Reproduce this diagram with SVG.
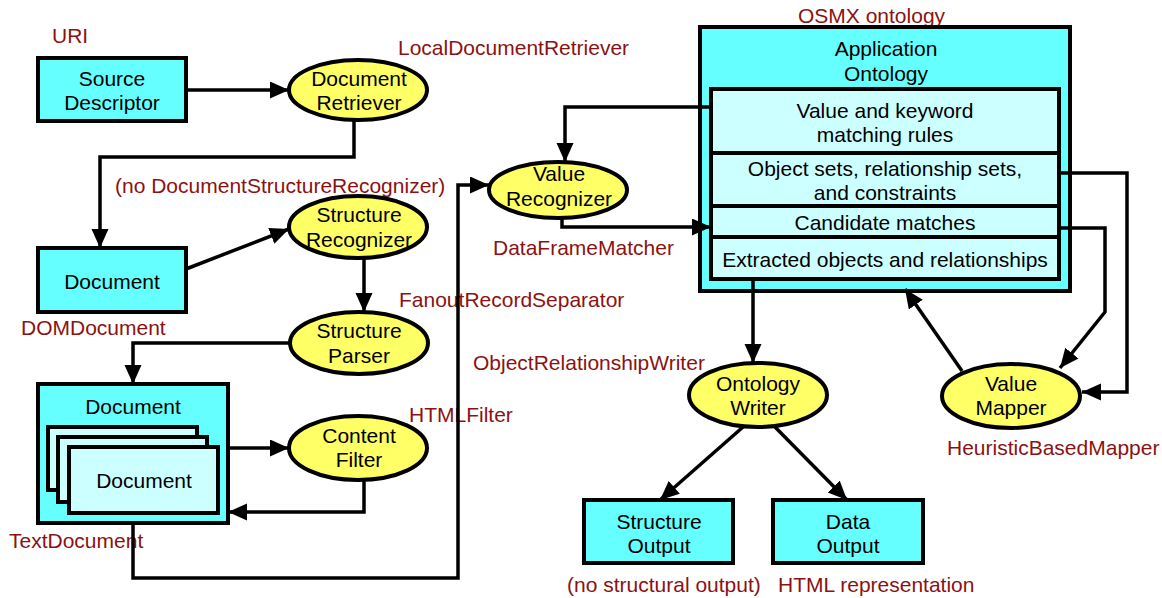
<svg xmlns="http://www.w3.org/2000/svg" width="1162" height="598" viewBox="0 0 1162 598">
<defs>
<marker id="ah" markerUnits="userSpaceOnUse" markerWidth="21" markerHeight="19" refX="19" refY="8.5" orient="auto">
<path d="M0,0 L19,8.5 L0,17 z" fill="#000"/>
</marker>
<style>
.box{fill:#66FFFF;stroke:#000;stroke-width:4}
.lbox{fill:#CCFFFF;stroke:#000;stroke-width:4}
.ell{fill:#FFFF66;stroke:#000;stroke-width:4}
.t{font-family:"Liberation Sans",Arial,sans-serif;font-size:21px;fill:#000;text-anchor:middle;dominant-baseline:central}
.lab{font-family:"Liberation Sans",Arial,sans-serif;font-size:21px;fill:#8B1212;dominant-baseline:central}
.c{fill:none;stroke:#000;stroke-width:3.5}
.a{marker-end:url(#ah)}
</style>
</defs>
<rect width="1162" height="598" fill="#fff"/>

<g id="labels">
<text class="lab" x="52" y="35">URI</text>
<text class="lab" x="398" y="47">LocalDocumentRetriever</text>
<text class="lab" x="115" y="185">(no DocumentStructureRecognizer)</text>
<text class="lab" x="21" y="327">DOMDocument</text>
<text class="lab" x="399" y="299">FanoutRecordSeparator</text>
<text class="lab" x="409" y="414">HTMLFilter</text>
<text class="lab" x="9" y="540">TextDocument</text>
<text class="lab" x="493" y="247">DataFrameMatcher</text>
<text class="lab" x="473" y="362">ObjectRelationshipWriter</text>
<text class="lab" x="798" y="15">OSMX ontology</text>
<text class="lab" x="947" y="447">HeuristicBasedMapper</text>
<text class="lab" x="567" y="584">(no structural output)</text>
<text class="lab" x="778" y="584">HTML representation</text>
</g>

<g id="source-descriptor">
<rect class="box" x="38" y="58" width="148" height="63"/>
<text class="t" x="112" y="78">Source</text>
<text class="t" x="112" y="102">Descriptor</text>
</g>

<g id="document-retriever">
<ellipse class="ell" cx="358" cy="90" rx="69" ry="30"/>
<text class="t" x="359" y="78">Document</text>
<text class="t" x="359" y="102">Retriever</text>
</g>

<g id="dom-document">
<rect class="box" x="38" y="248" width="148" height="64"/>
<text class="t" x="112" y="281">Document</text>
</g>

<g id="structure-recognizer">
<ellipse class="ell" cx="358" cy="227" rx="69" ry="31"/>
<text class="t" x="359" y="214">Structure</text>
<text class="t" x="359" y="239">Recognizer</text>
</g>

<g id="structure-parser">
<ellipse class="ell" cx="359" cy="343" rx="69" ry="31"/>
<text class="t" x="359" y="330">Structure</text>
<text class="t" x="359" y="355">Parser</text>
</g>

<g id="text-document">
<rect class="box" x="38" y="384" width="190" height="139"/>
<text class="t" x="133" y="406">Document</text>
<rect class="lbox" x="48" y="427" width="149" height="63"/>
<rect class="lbox" x="58" y="437" width="149" height="65"/>
<rect class="lbox" x="69" y="447" width="149" height="66"/>
<text class="t" x="144" y="480">Document</text>
</g>

<g id="content-filter">
<ellipse class="ell" cx="358" cy="448" rx="69" ry="32"/>
<text class="t" x="359" y="435">Content</text>
<text class="t" x="359" y="459">Filter</text>
</g>

<g id="value-recognizer">
<ellipse class="ell" cx="558" cy="190" rx="69" ry="28"/>
<text class="t" x="559" y="173">Value</text>
<text class="t" x="559" y="198">Recognizer</text>
</g>

<g id="application-ontology">
<rect class="box" x="700" y="27" width="370" height="264"/>
<text class="t" x="886" y="48">Application</text>
<text class="t" x="886" y="73">Ontology</text>
<rect class="lbox" x="711" y="89" width="348" height="64"/>
<text class="t" x="885" y="110">Value and keyword</text>
<text class="t" x="885" y="134">matching rules</text>
<rect class="lbox" x="711" y="153" width="348" height="53"/>
<text class="t" x="885" y="168">Object sets, relationship sets,</text>
<text class="t" x="885" y="192">and constraints</text>
<rect class="lbox" x="711" y="206" width="348" height="31"/>
<text class="t" x="885" y="222">Candidate matches</text>
<rect class="lbox" x="711" y="237" width="348" height="42"/>
<text class="t" x="885" y="259">Extracted objects and relationships</text>
</g>

<g id="ontology-writer">
<ellipse class="ell" cx="758" cy="395" rx="69" ry="32"/>
<text class="t" x="758" y="383">Ontology</text>
<text class="t" x="758" y="407">Writer</text>
</g>

<g id="value-mapper">
<ellipse class="ell" cx="1011" cy="396" rx="69" ry="32"/>
<text class="t" x="1011" y="383">Value</text>
<text class="t" x="1011" y="407">Mapper</text>
</g>

<g id="structure-output">
<rect class="box" x="584" y="500" width="149" height="63"/>
<text class="t" x="659" y="521">Structure</text>
<text class="t" x="659" y="545">Output</text>
</g>

<g id="data-output">
<rect class="box" x="773" y="500" width="150" height="63"/>
<text class="t" x="848" y="521">Data</text>
<text class="t" x="848" y="545">Output</text>
</g>

<g id="connectors">
<path class="c a" d="M186,90 H289"/>
<path class="c a" d="M354,120 V157 H100 V248"/>
<path class="c a" d="M186,269 L289,229"/>
<path class="c a" d="M364,258 V312"/>
<path class="c a" d="M290,343 H133 V384"/>
<path class="c a" d="M228,448 H289"/>
<path class="c a" d="M364,480 V512 H228"/>
<path class="c a" d="M133,523 V578 H458 V185 H489"/>
<path class="c a" d="M711,107 H565 V162"/>
<path class="c a" d="M562,218 V227 H711"/>
<path class="c a" d="M753,279 V363"/>
<path class="c a" d="M962,371 L905,289"/>
<path class="c a" d="M1059,228 H1105 V312 L1060,368"/>
<path class="c a" d="M1059,173 H1127 V392 H1082"/>
<path class="c a" d="M743,427 L660,500"/>
<path class="c a" d="M775,427 L847,500"/>
</g>
</svg>
